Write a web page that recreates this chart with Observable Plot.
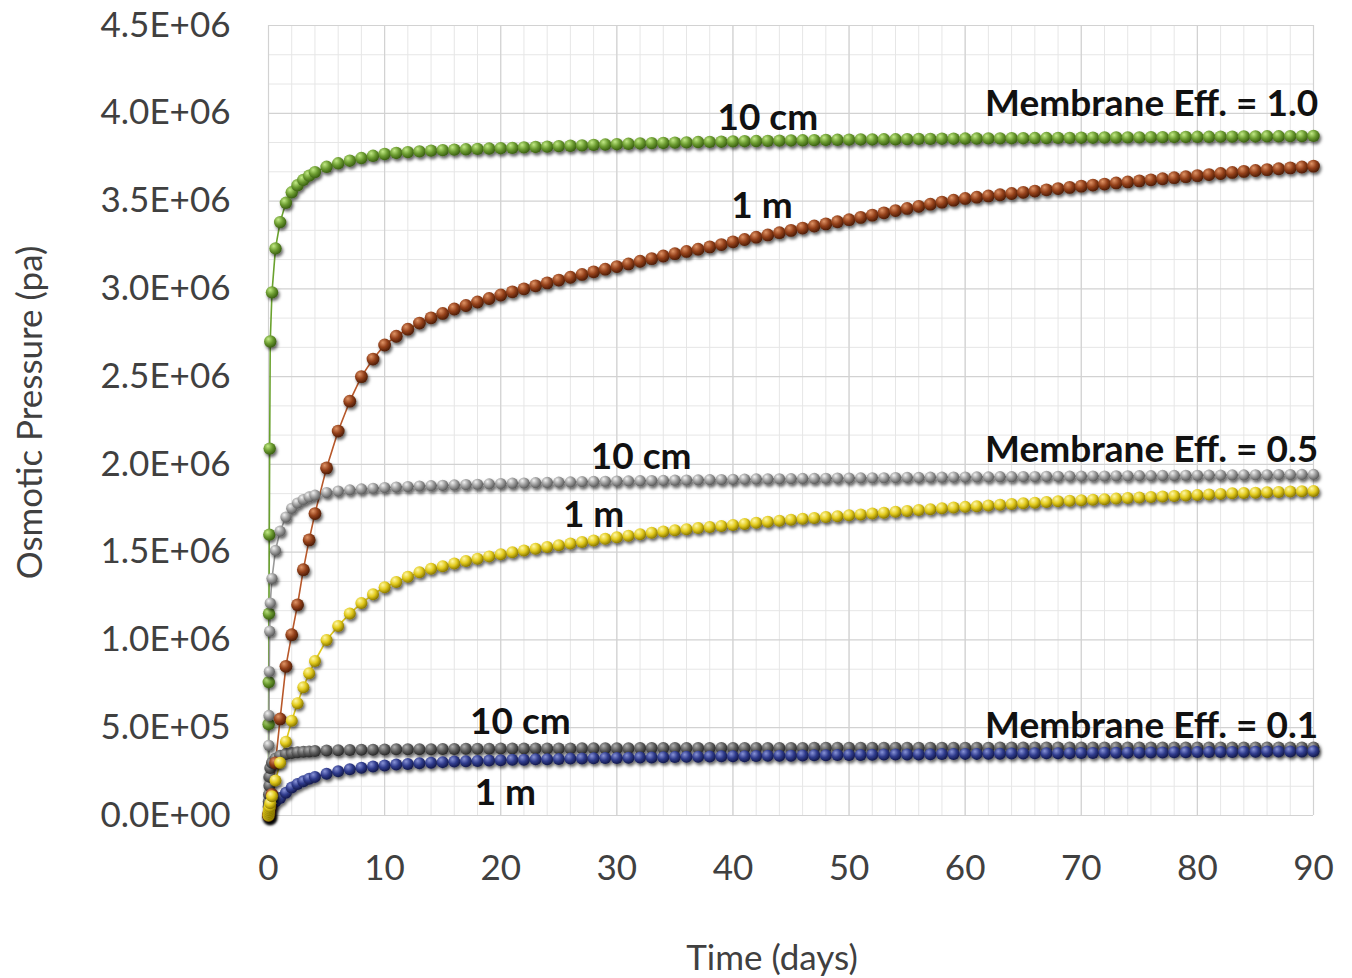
<!DOCTYPE html>
<html><head><meta charset="utf-8">
<script src="https://cdn.jsdelivr.net/npm/d3@7"></script>
<script src="https://cdn.jsdelivr.net/npm/@observablehq/plot@0.6"></script>
<style>body{margin:0;background:#fff;} #chart svg{display:block;}</style>
</head><body><div id="chart"></div>
<script>
// ---- data (pressure values in units of 1E+06 Pa) ----
const days = [0,0.01,0.02,0.04,0.07,0.1,0.15,0.3,0.6,1,1.5,2,2.5,3,3.5,4,
  5,6,7,8,9,
  10,11,12,13,14,15,16,17,18,19,
  20,21,22,23,24,25,26,27,28,29,
  30,31,32,33,34,35,36,37,38,39,
  40,41,42,43,44,45,46,47,48,49,
  50,51,52,53,54,55,56,57,58,59,
  60,61,62,63,64,65,66,67,68,69,
  70,71,72,73,74,75,76,77,78,79,
  80,81,82,83,84,85,86,87,88,89,
  90];

const eff10_10cm = [0,0.52,0.76,1.15,1.60,2.09,2.70,2.98,3.23,3.38,3.49,3.55,3.59,3.62,3.645,3.665,
  3.695,3.715,3.73,3.745,3.758,
  3.768,3.774,3.779,3.783,3.787,3.79,3.793,3.795,3.797,3.799,
  3.801,3.803,3.806,3.808,3.81,3.813,3.815,3.817,3.82,3.822,
  3.824,3.826,3.828,3.83,3.831,3.833,3.834,3.836,3.837,3.838,
  3.84,3.841,3.842,3.843,3.844,3.845,3.846,3.847,3.848,3.849,
  3.85,3.851,3.851,3.852,3.852,3.853,3.854,3.854,3.855,3.855,
  3.856,3.856,3.857,3.857,3.858,3.858,3.859,3.859,3.86,3.86,
  3.861,3.861,3.862,3.862,3.863,3.863,3.864,3.864,3.865,3.865,
  3.866,3.866,3.867,3.867,3.868,3.868,3.869,3.869,3.87,3.87,
  3.871];

const eff10_1m = [0,0,0.01,0.01,0.02,0.03,0.05,0.12,0.3,0.55,0.85,1.03,1.2,1.4,1.57,1.72,
  1.98,2.19,2.36,2.5,2.6,
  2.68,2.73,2.77,2.805,2.835,2.86,2.885,2.905,2.925,2.945,
  2.965,2.983,3.0,3.017,3.034,3.05,3.066,3.082,3.097,3.112,
  3.127,3.142,3.157,3.172,3.187,3.2,3.213,3.226,3.239,3.252,
  3.268,3.281,3.294,3.307,3.32,3.333,3.346,3.358,3.37,3.382,
  3.394,3.407,3.42,3.433,3.446,3.458,3.47,3.482,3.494,3.505,
  3.515,3.522,3.529,3.536,3.543,3.55,3.557,3.564,3.571,3.578,
  3.585,3.591,3.597,3.603,3.609,3.615,3.621,3.627,3.633,3.639,
  3.645,3.651,3.657,3.663,3.669,3.674,3.679,3.684,3.689,3.694,
  3.699];

const eff05_10cm = [0,0.22,0.40,0.57,0.82,1.05,1.21,1.35,1.51,1.62,1.70,1.75,1.78,1.80,1.815,1.825,
  1.84,1.848,1.855,1.86,1.864,
  1.868,1.871,1.874,1.877,1.879,1.881,1.883,1.885,1.887,1.889,
  1.891,1.893,1.894,1.896,1.897,1.899,1.9,1.902,1.903,1.904,
  1.905,1.906,1.907,1.908,1.909,1.91,1.911,1.912,1.913,1.914,
  1.915,1.916,1.917,1.917,1.918,1.919,1.92,1.92,1.921,1.922,
  1.922,1.923,1.924,1.924,1.925,1.926,1.926,1.927,1.927,1.928,
  1.928,1.929,1.929,1.93,1.93,1.931,1.931,1.932,1.932,1.933,
  1.933,1.934,1.934,1.935,1.935,1.936,1.936,1.937,1.937,1.938,
  1.938,1.939,1.939,1.94,1.94,1.941,1.941,1.942,1.942,1.943,
  1.943];

const eff05_1m = [0,0.01,0.02,0.03,0.04,0.05,0.07,0.11,0.2,0.3,0.42,0.54,0.64,0.73,0.81,0.88,
  1.0,1.08,1.15,1.21,1.26,
  1.30,1.33,1.36,1.385,1.405,1.42,1.435,1.45,1.463,1.476,
  1.488,1.499,1.51,1.52,1.53,1.54,1.549,1.558,1.567,1.576,
  1.585,1.594,1.602,1.61,1.618,1.625,1.631,1.637,1.643,1.649,
  1.655,1.661,1.667,1.673,1.679,1.685,1.69,1.695,1.7,1.705,
  1.71,1.715,1.72,1.725,1.73,1.735,1.74,1.745,1.75,1.754,
  1.758,1.762,1.766,1.77,1.774,1.778,1.782,1.786,1.79,1.793,
  1.796,1.799,1.802,1.805,1.808,1.811,1.814,1.817,1.82,1.823,
  1.826,1.829,1.832,1.835,1.837,1.839,1.841,1.843,1.845,1.847,
  1.849];

const eff01_10cm = [0,0.05,0.08,0.12,0.17,0.22,0.27,0.30,0.325,0.34,0.35,0.356,0.36,0.363,0.365,0.367,
  0.37,0.372,0.373,0.374,0.375,
  0.376,0.377,0.377,0.378,0.378,0.379,0.379,0.38,0.38,0.38,
  0.381,0.381,0.381,0.382,0.382,0.382,0.382,0.383,0.383,0.383,
  0.383,0.383,0.384,0.384,0.384,0.384,0.384,0.384,0.385,0.385,
  0.385,0.385,0.385,0.385,0.385,0.385,0.385,0.386,0.386,0.386,
  0.386,0.386,0.386,0.386,0.386,0.386,0.386,0.386,0.386,0.386,
  0.386,0.386,0.386,0.387,0.387,0.387,0.387,0.387,0.387,0.387,
  0.387,0.387,0.387,0.387,0.387,0.387,0.387,0.387,0.387,0.387,
  0.387,0.387,0.387,0.387,0.387,0.388,0.388,0.388,0.388,0.388,
  0.388];

const eff01_1m = [0,0.005,0.01,0.015,0.02,0.03,0.04,0.06,0.08,0.10,0.13,0.16,0.18,0.195,0.21,0.22,
  0.238,0.252,0.263,0.272,0.279,
  0.285,0.29,0.294,0.298,0.301,0.304,0.307,0.309,0.311,0.313,
  0.315,0.317,0.318,0.32,0.321,0.322,0.324,0.325,0.326,0.327,
  0.328,0.329,0.33,0.331,0.332,0.333,0.334,0.335,0.336,0.337,
  0.338,0.338,0.339,0.34,0.341,0.341,0.342,0.343,0.343,0.344,
  0.345,0.345,0.346,0.347,0.347,0.348,0.348,0.349,0.35,0.35,
  0.351,0.351,0.352,0.352,0.353,0.353,0.354,0.354,0.355,0.355,
  0.356,0.356,0.357,0.357,0.358,0.358,0.359,0.359,0.36,0.36,
  0.361,0.361,0.362,0.362,0.363,0.363,0.364,0.364,0.365,0.365,
  0.366];

const xTicks = [0,10,20,30,40,50,60,70,80,90];
const xMinor = [0,2,4,6,8,10,12,14,16,18,20,22,24,26,28,30,32,34,36,38,40,42,44,46,48,50,52,54,56,58,60,62,64,66,68,70,72,74,76,78,80,82,84,86,88,90];
const yTicks = [0,0.5,1.0,1.5,2.0,2.5,3.0,3.5,4.0,4.5];
const yMinor = [0.1667,0.3333,0.6667,0.8333,1.1667,1.3333,1.6667,1.8333,2.1667,2.3333,2.6667,2.8333,3.1667,3.3333,3.6667,3.8333,4.1667,4.3333];

const centerLabels = ["10 cm","1 m","10 cm","1 m","10 cm","1 m"];
const centerLabelDays = [43,42.5,32.1,28,21.7,20.4];
const centerLabelValues = [3.97,3.47,2.04,1.71,0.53,0.13];
const effLabels = ["Membrane Eff. = 1.0","Membrane Eff. = 0.5","Membrane Eff. = 0.1"];
const effLabelDays = [90.4,90.4,90.4];
const effLabelValues = [4.05,2.08,0.51];

// ---- styles ----
const series = [
  {values: eff10_10cm, r: 6.2, line:"#6aa22e", g:["#c2ea86","#6b9b30","#3a5f12"]},
  {values: eff05_10cm, r: 5.6, line:"#999999", g:["#f2f2f2","#9c9c9c","#5c5c5c"]},
  {values: eff01_10cm, r: 6.0, line:"#555555", g:["#b0b0b0","#5e5e5e","#2a2a2a"]},
  {values: eff01_1m,   r: 6.0, line:"#2f3b8c", g:["#8994d8","#2f3b8c","#141a4c"]},
  {values: eff10_1m,   r: 6.4, line:"#b8582a", g:["#e09466","#93401a","#4e1d06"]},
  {values: eff05_1m,   r: 6.0, line:"#e0c81a", g:["#fff8a8","#e2ca1c","#8a7800"]}
];
const rowsOf = s => days.map((t,i)=>({t, v: s.values[i]}));
const fmtE = d => {
  const s = (d*1e6).toExponential(1).toUpperCase();
  return s.replace(/E([+-])(\d)$/, "E$10$2");
};
const centerTable = centerLabels.map((text,i)=>({text, t: centerLabelDays[i], v: centerLabelValues[i]}));
const effTable = effLabels.map((text,i)=>({text, t: effLabelDays[i], v: effLabelValues[i]}));

const plot = Plot.plot({
  width: 1352, height: 978,
  marginLeft: 268, marginRight: 39, marginTop: 25, marginBottom: 163,
  style: {fontFamily: "Lato, 'Liberation Sans', sans-serif", fontSize: "35px", color: "#404040", background: "#fff", overflow: "visible"},
  x: {domain: [0,90], ticks: xTicks, tickFormat: d => String(d), tickSize: 0, tickPadding: 40, label: null},
  y: {domain: [0,4.5], ticks: yTicks, tickFormat: fmtE, tickSize: 0, tickPadding: 38, label: null},
  marks: [
    Plot.ruleX(xMinor, {stroke: "#e6e6e6", strokeWidth: 1}),
    Plot.ruleY(yMinor, {stroke: "#e6e6e6", strokeWidth: 1}),
    Plot.ruleX(xTicks, {stroke: "#d2d2d2", strokeWidth: 1.2}),
    Plot.ruleY(yTicks, {stroke: "#d2d2d2", strokeWidth: 1.2}),
    ...series.map(s => Plot.line(rowsOf(s), {x: "t", y: "v", stroke: s.line, strokeWidth: 1.6})),
    ...series.map(s => Plot.dot(rowsOf(s), {x: "t", y: "v", r: s.r, fill: s.g[1], stroke: "none"})),
    Plot.text(centerTable, {x: "t", y: "v", text: "text", fontWeight: "bold", fontSize: 37, fontFamily: "Lato", fill: "#111", textAnchor: "middle"}),
    Plot.text(effTable, {x: "t", y: "v", text: "text", fontWeight: "bold", fontSize: 37, fontFamily: "Lato", fill: "#111", textAnchor: "end"}),
    Plot.text(["Osmotic Pressure (pa)"], {text: d => d, frameAnchor: "left", textAnchor: "middle", lineAnchor: "middle", dx: -238, dy: -8, rotate: -90, fontSize: 35, fill: "#404040"}),
    Plot.text(["Time (days)"], {text: d => d, frameAnchor: "bottom", textAnchor: "middle", lineAnchor: "middle", dx: -19, dy: 143, fontSize: 35, fill: "#404040"})
  ]
});

// sphere gradients + drop shadow
const ns = "http://www.w3.org/2000/svg";
const defs = document.createElementNS(ns, "defs");
let defsHtml = `<filter id="shade" x="-20%" y="-20%" width="140%" height="140%"><feDropShadow dx="1.5" dy="2.5" stdDeviation="1.6" flood-color="#000" flood-opacity="0.6"/></filter>`;
series.forEach((s,i) => {
  defsHtml += `<radialGradient id="ball${i}" cx="38%" cy="35%" r="65%" fx="35%" fy="30%"><stop offset="0%" stop-color="${s.g[0]}"/><stop offset="55%" stop-color="${s.g[1]}"/><stop offset="100%" stop-color="${s.g[2]}"/></radialGradient>`;
});
defs.innerHTML = defsHtml;
plot.insertBefore(defs, plot.firstChild);
const dotGroups = plot.querySelectorAll('g[aria-label="dot"]');
dotGroups.forEach((g,i) => {
  g.setAttribute("fill", `url(#ball${i})`);
  g.querySelectorAll("circle").forEach(c => c.removeAttribute("fill"));
  g.setAttribute("filter", "url(#shade)");
});
document.getElementById("chart").appendChild(plot);
</script>
</body></html>
